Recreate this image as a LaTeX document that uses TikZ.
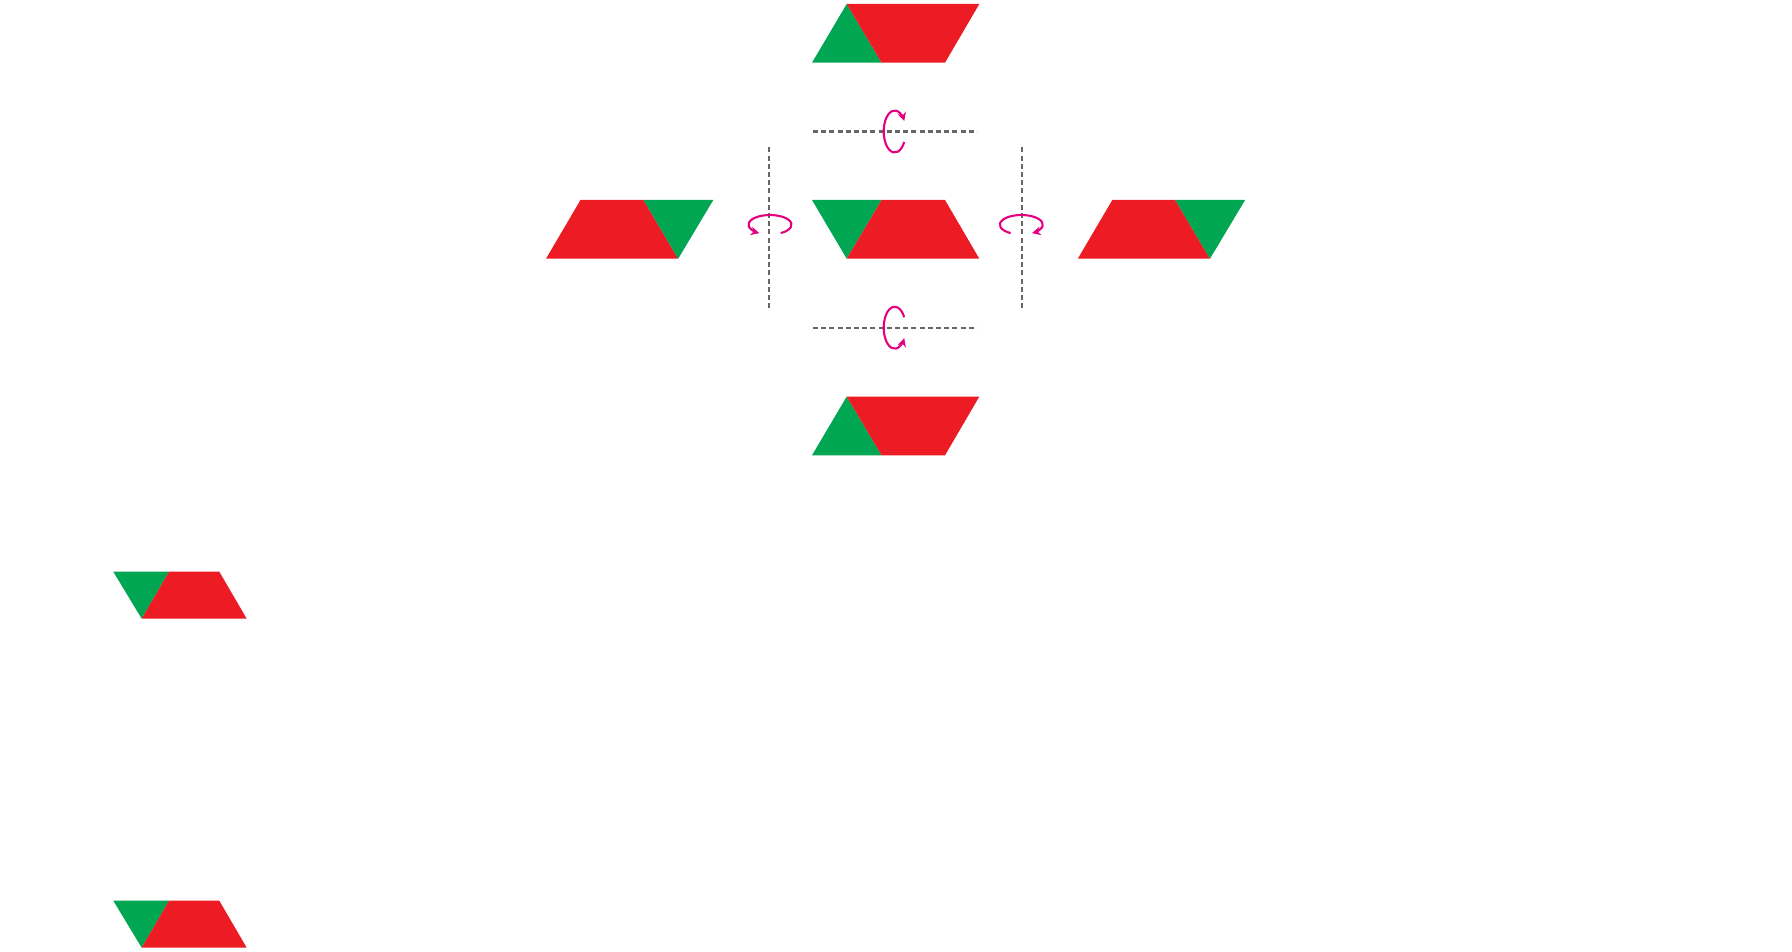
\documentclass[tikz,border=0pt]{standalone}
\usetikzlibrary{arrows.meta}
\definecolor{pgreen}{HTML}{00A651}
\definecolor{pred}{HTML}{ED1C24}
\definecolor{pmag}{HTML}{E6007E}
\definecolor{pgray}{HTML}{666666}
\tikzset{
  axisline/.style={draw=pgray, line width=2.1pt, dash pattern=on 5pt off 3.2pt},
  turn/.style={draw=pmag, line width=2.1pt, -{Stealth[length=8.5pt,width=8.5pt]}},
  gpiece/.style={fill=pgreen},
  rpiece/.style={fill=pred}
}
\begin{document}
\begin{tikzpicture}[x=1pt,y=-1pt]
\useasboundingbox[fill=white] (0,0) rectangle (1792,952);

% ---- top shape
\begin{scope}[shift={(0,0)}]
\fill[gpiece] (812,62.7) -- (846.7,4) -- (881.6,62.7) -- cycle;
\fill[rpiece] (846.7,4) -- (979.3,4) -- (945,62.7) -- (881.6,62.7) -- cycle;
\end{scope}
% ---- bottom shape
\begin{scope}[shift={(0,392.6)}]
\fill[gpiece] (812,62.7) -- (846.7,4) -- (881.6,62.7) -- cycle;
\fill[rpiece] (846.7,4) -- (979.3,4) -- (945,62.7) -- (881.6,62.7) -- cycle;
\end{scope}
% ---- middle shape
\fill[gpiece] (812,200) -- (881.6,200) -- (846.7,258.7) -- cycle;
\fill[rpiece] (881.6,200) -- (945,200) -- (979.3,258.7) -- (846.7,258.7) -- cycle;
% ---- left shape
\begin{scope}[shift={(0,0)}]
\fill[rpiece] (546,258.7) -- (580.5,200) -- (643.5,200) -- (678.2,258.7) -- cycle;
\fill[gpiece] (643.5,200) -- (713.3,200) -- (678.2,258.7) -- cycle;
\end{scope}
% ---- right shape
\begin{scope}[shift={(531.8,0)}]
\fill[rpiece] (546,258.7) -- (580.5,200) -- (643.5,200) -- (678.2,258.7) -- cycle;
\fill[gpiece] (643.5,200) -- (713.3,200) -- (678.2,258.7) -- cycle;
\end{scope}
% ---- small shapes lower left
\foreach \dy in {0,329}{
\begin{scope}[shift={(0,\dy)}]
\fill[gpiece] (113.3,571.7) -- (169,571.7) -- (141.7,618.7) -- cycle;
\fill[rpiece] (169,571.7) -- (219.3,571.7) -- (246.7,618.7) -- (141.7,618.7) -- cycle;
\end{scope}
}

% ---- axes
\coordinate (htl) at (813,131.5);
\coordinate (htr) at (977,131.5);
\coordinate (hbl) at (813,327.7);
\coordinate (hbr) at (977,327.7);
\coordinate (vlt) at (769,147.4);
\coordinate (vlb) at (769,309.7);
\coordinate (vrt) at (1021.6,147.4);
\coordinate (vrb) at (1021.6,309.7);
\draw[axisline] (htl) -- (htr);
\draw[axisline] (hbl) -- (hbr);
\draw[axisline] (vlt) -- (vlb);
\draw[axisline] (vrt) -- (vrb);

% ---- rotation arrows
\coordinate (ctop) at (894.7,131.5);
\coordinate (cbot) at (894.7,327.7);
\coordinate (cleft) at (770,224.7);
\coordinate (cright) at (1021.3,224.7);
\draw[turn] ([shift={(30:11 and 21)}]ctop) arc[start angle=30, end angle=330, x radius=11, y radius=21];
\draw[turn] ([shift={(-30:11 and 21)}]cbot) arc[start angle=-30, end angle=-330, x radius=11, y radius=21];
\draw[turn] ([shift={(60:21.5 and 9.7)}]cleft) arc[start angle=60, end angle=-240, x radius=21.5, y radius=9.7];
\draw[turn] ([shift={(120:21.5 and 9.7)}]cright) arc[start angle=120, end angle=420, x radius=21.5, y radius=9.7];
\end{tikzpicture}
\end{document}
